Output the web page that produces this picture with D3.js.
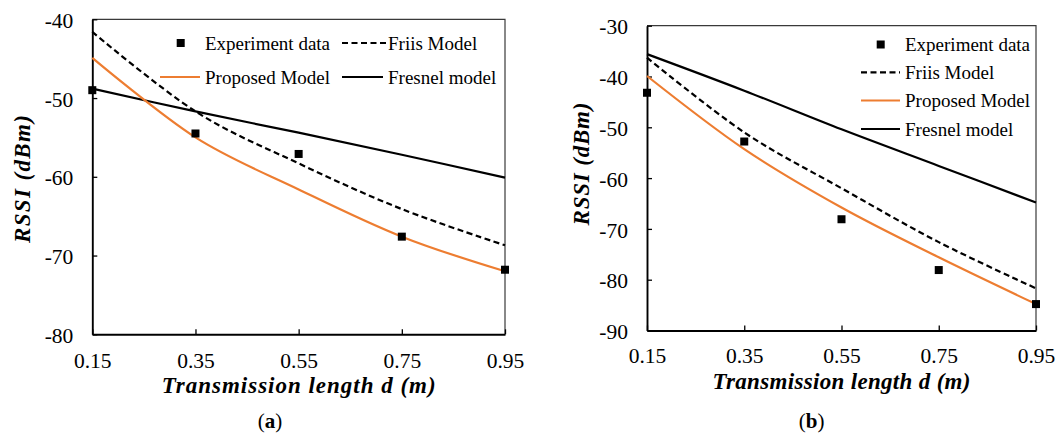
<!DOCTYPE html>
<html>
<head>
<meta charset="utf-8">
<script src="https://cdn.jsdelivr.net/npm/d3@7"></script>
<style>
  body { margin: 0; background: #fff; }
  svg text { font-family: "Liberation Serif", "Times New Roman", serif; fill: #000; }
  .axis-title { font-size: 23px; font-weight: bold; font-style: italic; }
  .legend text { font-size: 19px; }
  .caption { font-size: 21px; }
</style>
</head>
<body>
<svg id="chart" width="1057" height="438"></svg>
<script>
// distances (m) where every series is sampled
const distances = [0.15, 0.35, 0.55, 0.75, 0.95];
const xTickValues = [0.15, 0.35, 0.55, 0.75, 0.95];

// panel (a)
const aExperiment = [-49.0, -54.5, -57.1, -67.6, -71.8];
const aFriis = [-41.6, -51.7, -58.3, -64.1, -68.7];
const aProposed = [-44.9, -55.0, -61.6, -67.6, -72.0];
const aFresnel = [-48.8, -51.7, -54.4, -57.2, -60.1];
const aYTicks = [-40, -50, -60, -70, -80];

// panel (b)
const bExperiment = [-43.2, -52.8, -68.1, -78.1, -84.8];
const bFriis = [-36.3, -51.0, -62.0, -72.6, -81.7];
const bProposed = [-39.9, -54.3, -65.8, -75.6, -84.8];
const bFresnel = [-35.6, -42.8, -50.4, -57.6, -64.8];
const bYTicks = [-30, -40, -50, -60, -70, -80, -90];

const seriesNames = ['Experiment data', 'Friis Model', 'Proposed Model', 'Fresnel model'];
const xTitle = 'Transmission length d (m)';
const yTitle = 'RSSI (dBm)';

const ORANGE = '#ED7D31';
const FONT = '"Liberation Serif", "Times New Roman", serif';
const svg = d3.select('#chart');

function toPoints(values) {
  return distances.map((d, i) => ({ d: d, v: values[i] }));
}

function drawPanel(p) {
  const x = d3.scaleLinear().domain([0.15, 0.95]).range([p.left, p.right]);
  const y = d3.scaleLinear().domain(d3.extent(p.yTicks)).range([p.bottom, p.top]);
  const g = svg.append('g').attr('class', 'panel');

  // thin frame on top / right
  g.append('path')
    .attr('d', `M${p.left},${p.top}H${p.right}V${p.bottom}`)
    .attr('fill', 'none')
    .attr('stroke', '#3a3a3a')
    .attr('stroke-width', 1.2);

  const xAxis = g.append('g')
    .attr('transform', `translate(0,${p.bottom})`)
    .call(d3.axisBottom(x).tickValues(xTickValues).tickSize(-5).tickSizeOuter(0).tickFormat(d => d.toFixed(2)));
  xAxis.selectAll('.tick text').attr('dy', null).attr('y', p.xLabelOffset);

  const yAxis = g.append('g')
    .attr('transform', `translate(${p.left},0)`)
    .call(d3.axisLeft(y).tickValues(p.yTicks).tickSize(-5).tickSizeOuter(0).tickPadding(19).tickFormat(d => String(d)));
  yAxis.selectAll('.tick text').attr('dy', '0.38em');

  [xAxis, yAxis].forEach(ax => {
    ax.attr('font-family', FONT).attr('font-size', 21.5);
    ax.selectAll('.tick text').style('font-family', FONT).style('font-size', '21.5px');
    ax.select('.domain').attr('stroke', '#000').attr('stroke-width', 1.9);
    ax.selectAll('.tick line').attr('stroke-width', 1.3);
  });

  const line = d3.line()
    .x(d => x(d.d))
    .y(d => y(d.v))
    .curve(d3.curveCardinal.tension(0));

  g.append('path').datum(toPoints(p.fresnel))
    .attr('d', line).attr('fill', 'none').attr('stroke', '#000').attr('stroke-width', 2.2);
  g.append('path').datum(toPoints(p.friis))
    .attr('d', line).attr('fill', 'none').attr('stroke', '#000').attr('stroke-width', 2.2)
    .attr('stroke-dasharray', '6,3.5');
  g.append('path').datum(toPoints(p.proposed))
    .attr('d', line).attr('fill', 'none').attr('stroke', ORANGE).attr('stroke-width', 2.2);

  g.selectAll('.exp')
    .data(toPoints(p.experiment))
    .enter()
    .append('rect')
    .attr('class', 'exp')
    .attr('x', d => x(d.d) - 4)
    .attr('y', d => y(d.v) - 4)
    .attr('width', 8)
    .attr('height', 8)
    .attr('fill', '#000');

  // legend
  const lg = g.append('g').attr('class', 'legend');
  p.legend.forEach(item => {
    const i = seriesNames.indexOf(item.name);
    if (i === 0) {
      lg.append('rect')
        .attr('x', (item.x1 + item.x2) / 2 - 4).attr('y', item.y - 4)
        .attr('width', 8).attr('height', 8).attr('fill', '#000');
    } else {
      lg.append('line')
        .attr('x1', item.x1).attr('x2', item.x2)
        .attr('y1', item.y).attr('y2', item.y)
        .attr('stroke', i === 2 ? ORANGE : '#000')
        .attr('stroke-width', 2.2)
        .attr('stroke-dasharray', i === 1 ? '6,3.5' : null);
    }
    lg.append('text')
      .attr('x', item.tx).attr('y', item.y + 6.5)
      .text(item.name);
  });

  // axis titles
  g.append('text')
    .attr('class', 'axis-title')
    .attr('x', (p.left + p.right) / 2)
    .attr('y', p.xTitleY)
    .attr('text-anchor', 'middle')
    .attr('textLength', p.xTitleLen)
    .attr('lengthAdjust', 'spacing')
    .text(xTitle);

  g.append('text')
    .attr('class', 'axis-title')
    .attr('transform', `translate(${p.yTitleX},${p.yTitleY}) rotate(-90)`)
    .attr('text-anchor', 'middle')
    .attr('textLength', p.yTitleLen)
    .attr('lengthAdjust', 'spacing')
    .text(yTitle);

  const cap = g.append('text')
    .attr('class', 'caption')
    .attr('x', p.capX)
    .attr('y', 428)
    .attr('text-anchor', 'middle');
  cap.append('tspan').text('(');
  cap.append('tspan').attr('font-weight', 'bold').text(p.capLetter);
  cap.append('tspan').text(')');
}

drawPanel({
  left: 92.3, right: 505, top: 19.3, bottom: 334.3,
  yTicks: aYTicks,
  experiment: aExperiment, friis: aFriis, proposed: aProposed, fresnel: aFresnel,
  xLabelOffset: 34, xTitleY: 393, xTitleLen: 274,
  yTitleX: 29.5, yTitleY: 179, yTitleLen: 128,
  capX: 270, capLetter: 'a',
  legend: [
    { name: 'Experiment data', x1: 176.7, x2: 184.7, y: 43, tx: 205 },
    { name: 'Friis Model', x1: 342, x2: 386, y: 43, tx: 388 },
    { name: 'Proposed Model', x1: 160, x2: 200, y: 77, tx: 205 },
    { name: 'Fresnel model', x1: 342, x2: 383, y: 77, tx: 388 }
  ]
});

drawPanel({
  left: 647, right: 1036, top: 25.7, bottom: 330.5,
  yTicks: bYTicks,
  experiment: bExperiment, friis: bFriis, proposed: bProposed, fresnel: bFresnel,
  xLabelOffset: 32.5, xTitleY: 389, xTitleLen: 258,
  yTitleX: 589, yTitleY: 164, yTitleLen: 123,
  capX: 811.7, capLetter: 'b',
  legend: [
    { name: 'Experiment data', x1: 876.7, x2: 884.7, y: 44.5, tx: 905 },
    { name: 'Friis Model', x1: 861, x2: 900, y: 72.3, tx: 905 },
    { name: 'Proposed Model', x1: 861, x2: 900, y: 100.5, tx: 905 },
    { name: 'Fresnel model', x1: 861, x2: 900, y: 129, tx: 905 }
  ]
});
</script>
</body>
</html>
